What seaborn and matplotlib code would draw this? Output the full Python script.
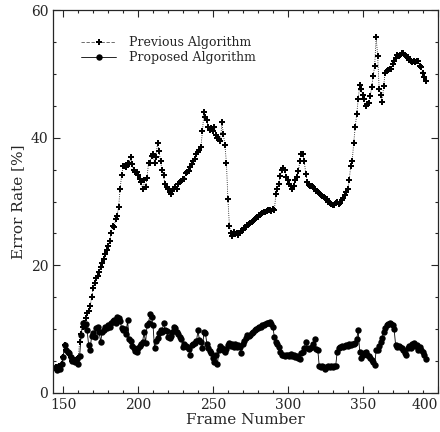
import numpy as np
import pandas as pd
import matplotlib
matplotlib.use("Agg")
import matplotlib.pyplot as plt
import seaborn as sns
from matplotlib.ticker import MultipleLocator

frame_start = 145
previous = [
    4.1, 3.6, 4.3, 3.8, 4.6, 5.7, 7.5, 6.8, 6.5, 6.2,   # 145-154
    5.6, 5.0, 5.2, 4.8, 5.4, 5.5, 8.0, 9.2, 10.4, 11.0,  # 155-164
    11.8, 12.5, 12.9, 13.6, 15.0, 16.4, 17.2, 18.0, 18.4, 19.0,  # 165-174
    19.8, 20.3, 21.0, 21.7, 22.4, 23.0, 23.8, 25.0, 26.2, 26.0,  # 175-184
    27.2, 27.8, 29.1, 31.9, 34.1, 35.5, 35.6, 35.4, 36.0, 35.8,  # 185-194
    36.9, 35.8, 35.0, 34.6, 34.6, 34.2, 33.6, 33.0, 32.0, 33.3,  # 195-204
    32.2, 33.7, 36.1, 36.0, 37.2, 37.4, 36.1, 37.0, 39.2, 37.9,  # 205-214
    36.3, 35.0, 34.1, 32.7, 32.2, 32.0, 31.5, 31.2, 31.6, 32.0,  # 215-224
    32.2, 31.9, 32.7, 33.0, 33.2, 33.6, 33.5, 34.4, 34.6, 34.8,  # 225-234
    35.4, 35.9, 36.4, 36.6, 37.4, 37.8, 38.1, 38.6, 41.0, 44.0,  # 235-244
    43.2, 42.7, 41.6, 41.2, 41.5, 41.0, 41.7, 40.4, 40.0, 39.8,  # 245-254
    39.5, 42.4, 40.5, 38.8, 36.1, 30.4, 26.2, 25.0, 24.6, 25.2,  # 255-264
    24.9, 25.0, 24.8, 25.0, 25.4, 25.6, 25.8, 26.0, 26.3, 26.5,  # 265-274
    26.6, 26.8, 27.0, 27.3, 27.4, 27.6, 27.9, 28.1, 28.2, 28.4,  # 275-284
    28.3, 28.5, 28.6, 28.7, 28.5, 28.8, 28.6, 31.1, 32.0, 32.8,  # 285-294
    34.0, 35.0, 35.2, 35.0, 33.8, 33.3, 32.8, 32.4, 32.0, 32.5,  # 295-304
    33.3, 33.8, 34.7, 36.3, 37.5, 37.5, 36.3, 34.3, 33.0, 32.6,  # 305-314
    32.5, 32.4, 32.2, 32.0, 31.7, 31.5, 31.3, 31.0, 30.9, 30.7,  # 315-324
    30.5, 30.4, 30.0, 29.8, 29.6, 29.4, 29.5, 29.8, 30.0, 29.6,  # 325-334
    29.8, 30.3, 30.6, 31.0, 31.5, 32.0, 33.3, 35.6, 36.3, 39.2,  # 335-344
    41.6, 43.7, 46.0, 48.2, 47.7, 46.7, 46.0, 45.0, 45.2, 45.5,  # 345-354
    46.5, 47.9, 49.7, 51.2, 55.8, 52.8, 47.7, 46.7, 45.6, 48.1,  # 355-364
    50.2, 50.4, 50.6, 50.8, 50.7, 51.5, 52.0, 52.5, 52.9, 52.8,  # 365-374
    53.0, 53.2, 53.3, 53.0, 52.8, 52.7, 52.2, 52.0, 51.8, 52.0,  # 375-384
    51.9, 52.0, 52.0, 51.3, 51.0, 50.2, 49.5, 48.9,              # 385-392
]
proposed = [
    4.1, 3.6, 4.3, 3.8, 4.6, 5.7, 7.5, 6.8, 6.5, 6.2,   # 145-154
    5.6, 5.0, 5.2, 4.8, 5.4, 4.5, 5.8, 9.1, 10.9, 10.5,  # 155-164
    10.8, 9.8, 7.5, 6.8, 9.0, 9.4, 8.8, 10.2, 10.3, 9.6,  # 165-174
    8.0, 9.5, 9.8, 10.4, 10.2, 10.6, 10.4, 10.9, 11.3, 11.4,  # 175-184
    11.0, 11.9, 11.8, 11.3, 10.2, 9.8, 10.0, 9.3, 11.4, 8.5,  # 185-194
    8.2, 7.4, 7.0, 6.6, 6.5, 7.0, 7.4, 7.6, 8.0, 9.5,  # 195-204
    7.8, 10.6, 11.0, 12.4, 11.9, 10.6, 7.0, 8.2, 8.6, 9.4,  # 205-214
    9.8, 9.6, 10.9, 9.9, 9.7, 8.8, 8.6, 9.0, 9.6, 10.4,  # 215-224
    10.2, 9.6, 9.2, 8.8, 8.5, 7.2, 7.6, 7.4, 7.2, 6.9,  # 225-234
    5.9, 7.5, 7.7, 7.9, 8.1, 9.8, 8.3, 8.0, 7.0, 9.6,  # 235-244
    9.4, 7.6, 7.0, 6.6, 6.2, 5.5, 4.9, 5.9, 4.5, 6.8,  # 245-254
    7.3, 7.0, 6.8, 6.4, 6.9, 7.5, 7.8, 7.3, 7.6, 7.2,  # 255-264
    7.6, 7.2, 7.5, 7.2, 6.2, 7.6, 8.2, 8.6, 9.1, 9.0,  # 265-274
    9.1, 9.4, 9.6, 9.8, 10.0, 10.2, 10.4, 10.3, 10.6, 10.7,  # 275-284
    10.8, 10.9, 11.0, 11.1, 10.8, 10.4, 8.8, 8.0, 7.6, 7.2,  # 285-294
    6.4, 5.9, 6.0, 5.8, 6.0, 5.9, 5.8, 6.1, 5.8, 5.9,  # 295-304
    5.6, 5.8, 5.5, 5.4, 6.2, 6.5, 7.0, 8.0, 7.0, 6.9,  # 305-314
    7.0, 7.2, 7.6, 8.5, 6.9, 6.8, 4.2, 4.0, 4.2, 4.0,  # 315-324
    3.8, 4.1, 4.2, 4.0, 4.2, 4.1, 4.2, 4.3, 6.5, 7.0,  # 325-334
    7.2, 7.3, 7.2, 7.4, 7.5, 7.4, 7.6, 7.5, 7.6, 7.7,  # 335-344
    7.9, 8.5, 9.8, 6.5, 5.5, 6.0, 6.3, 6.5, 6.0, 5.8,  # 345-354
    5.5, 5.2, 4.8, 4.4, 6.7, 6.7, 7.3, 8.0, 8.6, 9.6,  # 355-364
    10.2, 10.6, 10.8, 10.9, 10.8, 10.6, 10.0, 7.5, 7.2, 7.3,  # 365-374
    7.2, 7.0, 6.8, 6.2, 6.0, 7.0, 7.3, 7.0, 7.6, 7.8,  # 375-384
    7.4, 7.5, 6.8, 7.2, 6.8, 6.4, 6.0, 5.3,            # 385-392
]
frames = list(range(frame_start, frame_start + len(previous)))

x_ticks = [150, 200, 250, 300, 350, 400]
y_ticks = [0, 20, 40, 60]
series_names = ["Previous Algorithm", "Proposed Algorithm"]

sns.set_style("ticks")
plt.rcParams['font.family'] = ['DejaVu Serif']

fig = plt.figure(figsize=(4.4, 4.32), dpi=100)
ax = fig.add_axes([53/440, 1 - 393/432, 385/440, 383/432])

sns.lineplot(x=frames, y=previous, ax=ax, color="black", linestyle=":",
             linewidth=0.6, marker="P", markersize=5, markeredgewidth=0,
             markerfacecolor="black", label=series_names[0])
sns.lineplot(x=frames, y=proposed, ax=ax, color="black", linestyle="-",
             linewidth=0.6, marker="o", markersize=4.6, markeredgewidth=0,
             markerfacecolor="black", label=series_names[1])

ax.set_xlim(143.2, 400.3)
ax.set_ylim(0, 60)
ax.set_xticks(x_ticks)
ax.set_xticklabels([str(t) for t in x_ticks])
ax.set_yticks(y_ticks)
ax.xaxis.set_minor_locator(MultipleLocator(10))
ax.yaxis.set_minor_locator(MultipleLocator(5))
ax.tick_params(which="both", direction="in", top=True, right=True,
               labelsize=10, width=0.8)
ax.tick_params(which="major", length=5)
ax.tick_params(which="minor", length=2.5)
for lbl in ax.get_xticklabels():
    if lbl.get_text() == "400":
        lbl.set_horizontalalignment("right")
for s in ax.spines.values():
    s.set_linewidth(0.9)

ax.set_xlabel("Frame Number", fontsize=11, labelpad=1)
ax.set_ylabel("Error Rate [%]", fontsize=11, labelpad=4)

leg = ax.legend(loc="upper left", bbox_to_anchor=(0.06, 0.945), frameon=False,
                fontsize=9, handlelength=2.8, handletextpad=1.0,
                labelspacing=0.15, borderaxespad=0)
leg.get_lines()[0].set_linestyle((0, (4, 2)))
leg.get_lines()[0].set_color("#555555")
leg.get_lines()[0].set_markerfacecolor("black")
leg.get_lines()[0].set_markeredgecolor("black")

fig.savefig("out.png", dpi=100)
